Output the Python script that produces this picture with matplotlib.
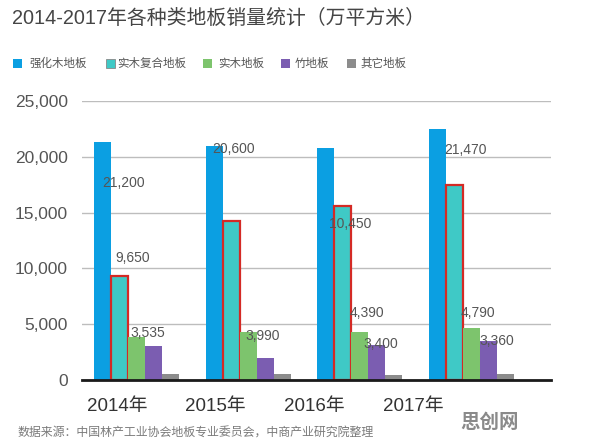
import matplotlib
matplotlib.use("Agg")
import matplotlib.pyplot as plt
import numpy as np
from matplotlib.patches import Rectangle

plt.rcParams["font.family"] = ["Liberation Sans", "Noto Sans CJK SC", "DejaVu Sans"]

# data (万平方米)
years = ["2014年", "2015年", "2016年", "2017年"]
series_names = ["强化木地板", "实木复合地板", "实木地板", "竹地板", "其它地板"]
laminate = [21300, 20990, 20820, 22460]
engineered = [9320, 14270, 15590, 17470]
solid_wood = [3830, 4270, 4330, 4660]
bamboo = [3070, 2000, 3140, 3520]
other = [560, 560, 470, 560]

# printed value labels (as they stand in the source, not always next to their bar)
value_texts = ["21,200", "9,650", "3,535", "20,600", "3,990", "10,450",
               "4,390", "3,400", "21,470", "4,790", "3,360"]

title = "2014-2017年各种类地板销量统计（万平方米）"
source = "数据来源：中国林产工业协会地板专业委员会，中商产业研究院整理"
watermark = "思创网"

# styling / placement
colors = ["#0b9fe2", "#3fc9c6", "#7dc46d", "#7b5db1", "#8c8c8c"]
label_pos = [(-0.12, 17650), (-0.03, 10930), (0.10, 4210), (0.87, 20700),
             (1.13, 3940), (1.92, 13980), (2.07, 6000), (2.19, 3230),
             (2.95, 20610), (3.06, 6000), (3.23, 3490)]
bar_w = 0.1525

fig = plt.figure(figsize=(5.96, 4.42), dpi=100)
ax = fig.add_axes([82 / 596, 1 - 380 / 442, (551 - 82) / 596, (380 - 101) / 442])

x = np.arange(len(years))
all_series = [laminate, engineered, solid_wood, bamboo, other]
for k, vals in enumerate(all_series):
    xs = x + (k - 2) * bar_w
    if k == 1:
        ax.bar(xs, vals, width=bar_w, color=colors[k], edgecolor="#d42a25",
               linewidth=1.6, zorder=3)
    else:
        ax.bar(xs, vals, width=bar_w, color=colors[k], linewidth=0, zorder=3)

for txt, (lx, ly) in zip(value_texts, label_pos):
    ax.text(lx, ly, txt, ha="center", va="center", fontsize=10,
            color="#555555", zorder=4)

ax.set_xlim(-0.489, 3.717)
ax.set_ylim(0, 25000)
ax.set_yticks(np.arange(0, 25001, 5000))
ax.set_yticklabels([f"{v:,}" for v in range(0, 25001, 5000)],
                   fontsize=12.5, color="#555555")
ax.set_xticks(np.arange(len(years)) * 0.885 - 0.175)
ax.set_xticklabels(years, fontsize=13.5, color="#333333")
ax.tick_params(axis="both", length=0)
ax.tick_params(axis="y", pad=10)
ax.tick_params(axis="x", pad=13)
ax.grid(axis="y", color="#bdbdbd", linewidth=1.0, zorder=0)
for side in ["left", "right", "top"]:
    ax.spines[side].set_visible(False)
ax.spines["bottom"].set_color("#1a1a1a")
ax.spines["bottom"].set_linewidth(2.0)
ax.spines["bottom"].set_zorder(5)

fig.text(12 / 596, 1 - 18 / 442, title, fontsize=14.3, color="#454545",
         ha="left", va="center")

# legend drawn by hand to match the source layout
leg_sq = [13, 106, 203, 281, 347]
leg_tx = [29, 117, 218, 295, 360]
for k, name in enumerate(series_names):
    ec = "#888888" if k == 1 else "none"
    fig.patches.append(Rectangle((leg_sq[k] / 596, 1 - 68 / 442), 9 / 596, 9 / 442,
                                 transform=fig.transFigure, facecolor=colors[k],
                                 edgecolor=ec, linewidth=0.6))
    fig.text(leg_tx[k] / 596, 1 - 64 / 442, name, fontsize=8.3, color="#555555",
             ha="left", va="center")

fig.text(18 / 596, 1 - 434 / 442, source, fontsize=8.6, color="#7a7a7a",
         ha="left", va="center")
fig.text(490 / 596, 1 - 423 / 442, watermark, fontsize=14, color="#8a8a8a",
         ha="center", va="center", fontweight="bold")

fig.savefig("out.png", dpi=100)
